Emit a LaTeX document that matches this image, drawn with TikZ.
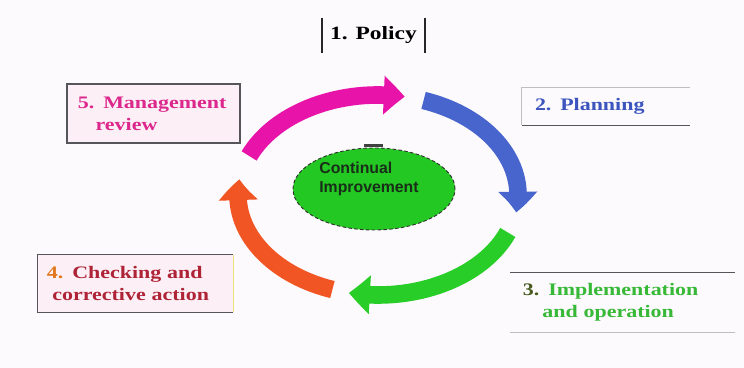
\documentclass[tikz,border=0pt]{standalone}
\usepackage{fontspec}
\setsansfont{Liberation Sans}
\newfontfamily\slidefont{Liberation Serif}[FakeStretch=1.25]
\usetikzlibrary{arrows.meta,bending,shapes.geometric,positioning}

\definecolor{pagetint}{RGB}{252,250,252}
\definecolor{cycmagenta}{RGB}{232,20,170}
\definecolor{cycblue}{RGB}{72,100,205}
\definecolor{cycgreen}{RGB}{40,205,40}
\definecolor{cycorange}{RGB}{240,85,35}
\definecolor{coregreen}{RGB}{35,200,35}
\definecolor{coreink}{RGB}{25,45,25}
\definecolor{reviewpink}{RGB}{220,40,140}
\definecolor{planblue}{RGB}{60,85,190}
\definecolor{checkred}{RGB}{175,35,55}
\definecolor{checkorange}{RGB}{225,120,30}
\definecolor{implgreen}{RGB}{55,185,55}
\definecolor{impldark}{RGB}{70,90,30}
\definecolor{boxgray}{RGB}{85,85,90}
\definecolor{boxpink}{RGB}{252,240,246}
\definecolor{sideyellow}{RGB}{240,225,120}

\begin{document}
\begin{tikzpicture}[x=0.03cm, y=0.03cm,
    stagetext/.style={font=\slidefont\bfseries\fontsize{15pt}{18.7pt}\selectfont, align=left, inner ysep=0pt},
    framed/.style={stagetext, fill=boxpink},
    bar/.style={line width=1.6pt, black!85},
    ruledark/.style={line width=1pt, boxgray},
    rulefaint/.style={line width=0.6pt, black!25},
    ring/.style={ellipse, draw=black!80, densely dashed, line width=0.8pt, fill=coregreen, minimum width=4.86cm, minimum height=2.46cm},
    cyclearrow/.style={line width=15pt, -{Triangle[width=32pt, length=18pt, bend]}}
  ]
    \fill[pagetint] (0,0) rectangle (744,368);
    \useasboundingbox (0,0) rectangle (744,368);

    % stage captions
    \node[stagetext, font=\slidefont\bfseries\fontsize{16pt}{19pt}\selectfont, align=center, minimum width=3.09cm, minimum height=1.05cm] (policy) at (373.5,332.5) {1. Policy};
    \draw[bar] (policy.north west) -- (policy.south west);
    \draw[bar] (policy.north east) -- (policy.south east);

    \node[framed, draw=boxgray, line width=0.9pt, text=reviewpink, text width=4.53cm, inner xsep=0.33cm, minimum height=1.77cm] (review) at (153.5,254.5) {5. Management\\\hspace*{1em}review};

    \node[stagetext, text=planblue, text width=4.26cm, inner xsep=0.39cm, minimum height=1.11cm] (plan) at (606,261.5) {2. Planning};
    \draw[rulefaint] (plan.north east) -- (plan.north west) -- (plan.south west);
    \draw[ruledark] (plan.south west) -- (plan.south east);

    \node[framed, text=checkred, text width=5.31cm, inner xsep=0.27cm, minimum height=1.71cm] (check) at (135.5,84.5) {{\color{checkorange}4.} Checking and\\\hspace*{0.3em}corrective action};
    \draw[ruledark] (check.north east) -- (check.north west) -- (check.south west) -- (check.south east);
    \draw[line width=1pt, sideyellow] (check.south east) -- (check.north east);

    \node[stagetext, text=implgreen, text width=5.97cm, inner xsep=0.39cm, minimum height=1.77cm] (impl) at (622.5,65.5) {{\color{impldark}3.} Implementation\\\hspace*{1.1em}and operation};
    \draw[ruledark] (impl.north west) -- (impl.north east);
    \draw[rulefaint] (impl.south west) -- (impl.south east);

    % centre
    \node[ring] (core) at (374,179) {};
    \draw[line width=2.5pt, black!75] ([xshift=-0.3cm, yshift=2pt]core.north) -- ++(19,0);
    \node[font=\sffamily\bfseries\fontsize{13.5pt}{16pt}\selectfont, text=coreink, align=left] (coretitle) at (369,189) {Continual\\Improvement};

    % cycle
    \coordinate (hub) at (378,173);
    \draw[cyclearrow, cycmagenta] ([shift={(157:140 and 100)}]hub) arc[start angle=157, end angle=79, x radius=140, y radius=100];
    \draw[cyclearrow, cycblue] ([shift={(71:140 and 100)}]hub) arc[start angle=71, end angle=-10, x radius=140, y radius=100];
    \draw[cyclearrow, cycgreen] ([shift={(-22:140 and 100)}]hub) arc[start angle=-22, end angle=-102, x radius=140, y radius=100];
    \draw[cyclearrow, cycorange] ([shift={(251:140 and 100)}]hub) arc[start angle=251, end angle=171, x radius=140, y radius=100];
  \end{tikzpicture}
\end{document}
